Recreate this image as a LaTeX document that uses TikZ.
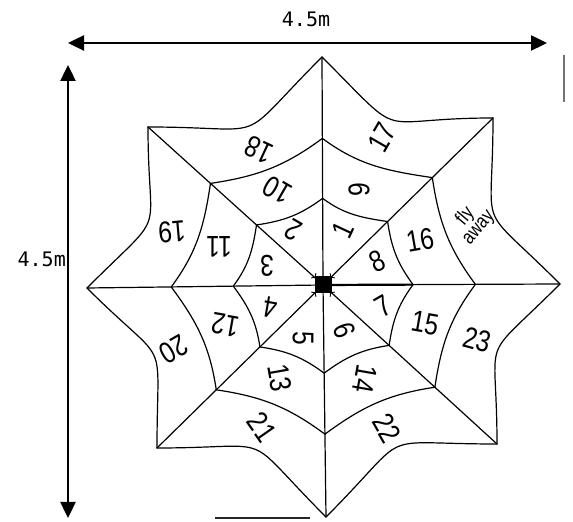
\documentclass[tikz,border=0pt]{standalone}
\usepackage{fontspec}
\setmainfont{Liberation Sans}
\newfontfamily\dimfont{DejaVu Sans Mono}
\newfontfamily\handfont[FakeStretch=0.82]{Liberation Sans}
\usetikzlibrary{arrows.meta,calc}
\begin{document}
\begin{tikzpicture}[x=1pt,y=1pt,
  web/.style={line width=1.2pt, line join=round, line cap=round},
  dimarrow/.style={line width=2.4pt, {Triangle[length=16pt,width=15pt]}-{Triangle[length=16pt,width=15pt]}},
  num/.style={font=\handfont\fontsize{30}{30}\selectfont, inner sep=0pt},
  flytext/.style={font=\handfont\fontsize{20}{17}\selectfont, inner sep=0pt, align=center},
  dimlabel/.style={font=\dimfont\fontsize{20}{20}\selectfont, inner sep=0pt},
  scan/.style={line width=2pt, black!55}]
\useasboundingbox (0,0) rectangle (573,522);
\fill[white] (0,0) rectangle (573,522);

% web geometry
\coordinate (C) at (323,237);
\coordinate (O0) at (560,238);
\coordinate (O1) at (493,404);
\coordinate (O2) at (322,465);
\coordinate (O3) at (148,395);
\coordinate (O4) at (87,234);
\coordinate (O5) at (157,74);
\coordinate (O6) at (326,5);
\coordinate (O7) at (497,78);
\foreach \i in {0,...,7} {
  \coordinate (A\i) at ($(C)!0.38!(O\i)$);
  \coordinate (B\i) at ($(C)!0.643!(O\i)$);
}
% spokes
\foreach \i in {0,...,7} \draw[web] (C) -- (O\i);
% rings and outer scallops
\foreach \i in {0,...,7} {
  \pgfmathtruncatemacro{\nxt}{mod(\i+1,8)}
  \pgfmathsetmacro{\outang}{\i*45+135}
  \pgfmathsetmacro{\inang}{\i*45+270}
  \pgfmathsetmacro{\rout}{\i*45+112.5+14}
  \pgfmathsetmacro{\rin}{\i*45+292.5-14}
  \draw[web] (O\i) to[out=\outang, in=\inang, looseness=1.75] (O\nxt);
  \draw[web] (B\i) to[out=\rout, in=\rin] (B\nxt);
  \draw[web] (A\i) to[out=\rout, in=\rin] (A\nxt);
}
% spider
\draw[line width=2.2pt] (C) -- (A0);
\node[fill=black, minimum size=17pt, inner sep=0pt] (spider) at (C) {};
\foreach \a in {45,135,225,315} {
  \draw[line width=0.9pt] ($(spider.center)+(\a:11)$) -- ++(\a+55:4);
  \draw[line width=0.9pt] ($(spider.center)+(\a:11)$) -- ++(\a-55:4);
}

% numbers: inner ring
\node[num, rotate=65]  (n1) at (343,292) {1};
\node[num, rotate=150] (n2) at (293,292) {2};
\node[num, rotate=180] (n3) at (267,256) {3};
\node[num, rotate=170] (n4) at (270,215) {4};
\node[num, rotate=-90] (n5) at (303,184) {5};
\node[num, rotate=-70] (n6) at (345,192) {6};
\node[num, rotate=30]  (n7) at (383,216) {7};
\node[num, rotate=25]  (n8) at (377,261) {8};
% middle ring
\node[num, rotate=90]  (n9)  at (359,332) {9};
\node[num, rotate=150] (n10) at (277,332) {10};
\node[num, rotate=180] (n11) at (219,275) {11};
\node[num, rotate=170] (n12) at (225,197) {12};
\node[num, rotate=-80] (n13) at (280,144) {13};
\node[num, rotate=-100](n14) at (365,143) {14};
\node[num, rotate=-10] (n15) at (425,199) {15};
\node[num, rotate=10]  (n16) at (420,282) {16};
% outer ring
\node[num, rotate=60]  (n17) at (382,385) {17};
\node[num, rotate=155] (n18) at (259,372) {18};
\node[num, rotate=185] (n19) at (172,290) {19};
\node[num, rotate=210] (n20) at (174,173) {20};
\node[num, rotate=-55] (n21) at (262,95) {21};
\node[num, rotate=-60] (n22) at (387,94) {22};
\node[num, rotate=-15] (n23) at (477,182) {23};
\node[flytext, rotate=50] (fly) at (472,300) {fly\\away};

% dimensions
\coordinate (hl) at (68,479);
\coordinate (hr) at (547,479);
\draw[dimarrow] (hl) -- (hr);
\node[dimlabel] (wlabel) at (306,503) {4.5m};
\coordinate (vt) at (68,457);
\coordinate (vb) at (68,4);
\draw[dimarrow] (vt) -- (vb);
\node[dimlabel, anchor=east] (hlabel) at (66,263) {4.5m};

% scan marks
\coordinate (s1) at (564,467);
\coordinate (s2) at (564,420);
\draw[scan] (s1) -- (s2);
\coordinate (s3) at (215,4);
\coordinate (s4) at (310,4);
\draw[scan, black!85] (s3) -- (s4);
\end{tikzpicture}
\end{document}
